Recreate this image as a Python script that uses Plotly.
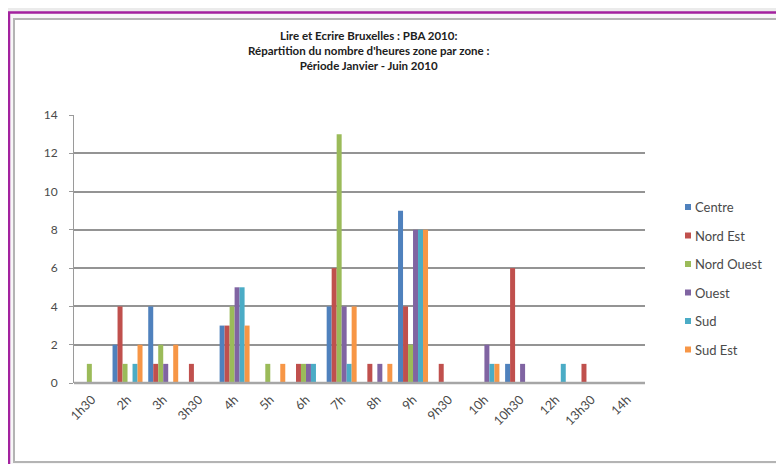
import plotly.graph_objects as go

categories = ["1h30", "2h", "3h", "3h30", "4h", "5h", "6h", "7h", "8h", "9h",
              "9h30", "10h", "10h30", "12h", "13h30", "14h"]
centre     = [0, 2, 4, 0, 3, 0, 0, 4, 0, 9, 0, 0, 1, 0, 0, 0]
nord_est   = [0, 4, 1, 1, 3, 0, 1, 6, 1, 4, 1, 0, 6, 0, 1, 0]
nord_ouest = [1, 1, 2, 0, 4, 1, 1, 13, 0, 2, 0, 0, 0, 0, 0, 0]
ouest      = [0, 0, 1, 0, 5, 0, 1, 4, 1, 8, 0, 2, 1, 0, 0, 0]
sud        = [0, 1, 0, 0, 5, 0, 1, 1, 0, 8, 0, 1, 0, 1, 0, 0]
sud_est    = [0, 2, 2, 0, 3, 1, 0, 4, 1, 8, 0, 1, 0, 0, 0, 0]
series_names = ["Centre", "Nord Est", "Nord Ouest", "Ouest", "Sud", "Sud Est"]
series_values = [centre, nord_est, nord_ouest, ouest, sud, sud_est]
colors = ["#4F81BD", "#C0504D", "#9BBB59", "#8064A2", "#4BACC6", "#F79646"]
y_ticks = [0, 2, 4, 6, 8, 10, 12, 14]

W, H = 784, 464
OFF = 8  # page body margin
# plot area in screen pixels
SL, SR, ST, SB = 74, 645, 115, 383
L, R, T, B = SL - OFF, SR - OFF, ST - OFF, SB - OFF


def px(x):
    return (x - SL) / (SR - SL)


def py(y):
    return (SB - y) / (SB - ST)


font_family = "Lato, 'Open Sans', sans-serif"

fig = go.Figure()
for i, (name, vals) in enumerate(zip(series_names, series_values)):
    fig.add_trace(go.Bar(x=categories, y=vals, name=name,
                         marker=dict(color=colors[i], line=dict(width=0)),
                         showlegend=False))

shapes = [
    dict(type="rect", xref="paper", yref="paper", layer="below",
         x0=px(9), x1=px(820), y0=py(12.5), y1=py(490),
         line=dict(color="#a3229f", width=2.5), fillcolor="#f7f7f7"),
    dict(type="rect", xref="paper", yref="paper", layer="below",
         x0=px(14), x1=px(820), y0=py(19), y1=py(462),
         line=dict(color="#b4b4b4", width=2), fillcolor="#ffffff"),
    dict(type="line", xref="paper", yref="paper", layer="above",
         x0=0, x1=1, y0=0, y1=0,
         line=dict(color="#a6a6a6", width=2.5)),
]
annotations = [
    dict(xref="paper", yref="paper", x=px(368), y=py(27),
         xanchor="center", yanchor="top", showarrow=False, align="center",
         text="<b>Lire et Ecrire Bruxelles : PBA 2010:<br>"
              "Répartition du nombre d'heures zone par zone :<br>"
              "Période Janvier - Juin 2010</b>",
         font=dict(size=11.5, color="#202020", family=font_family)),
]

# legend drawn as small squares + text
leg_y0, leg_dy = 207, 28.5
for i, name in enumerate(series_names):
    yc = leg_y0 + i * leg_dy
    shapes.append(dict(type="rect", xref="paper", yref="paper", layer="above",
                       x0=px(685), x1=px(691), y0=py(yc - 3), y1=py(yc + 3),
                       line=dict(width=0), fillcolor=colors[i]))
    annotations.append(dict(xref="paper", yref="paper", x=px(693), y=py(yc),
                            xanchor="left", yanchor="middle", showarrow=False,
                            text=name,
                            font=dict(size=13, color="#4a4a4a",
                                      family=font_family)))

fig.update_layout(
    width=W, height=H,
    margin=dict(l=L, r=W - R, t=T, b=H - B, pad=0),
    paper_bgcolor="#ebebeb",
    plot_bgcolor="rgba(0,0,0,0)",
    barmode="group",
    bargap=0.16,
    bargroupgap=0,
    font=dict(family=font_family, size=10, color="#404040"),
    showlegend=False,
    xaxis=dict(type="category", tickangle=-45, showgrid=False,
               showline=False, ticks="", ticklabelstandoff=6,
               tickfont=dict(size=12.5, color="#4a4a4a"),
               range=[-0.5, len(categories) - 0.5], fixedrange=True),
    yaxis=dict(range=[0, 14], tickvals=y_ticks, showgrid=True,
               gridcolor="#949494", gridwidth=1.6, zeroline=False,
               showline=True, linecolor="#9a9a9a", linewidth=1,
               ticks="outside", ticklen=4, tickcolor="#9a9a9a",
               ticklabelstandoff=9,
               tickfont=dict(size=12, color="#4a4a4a"), fixedrange=True),
    shapes=shapes,
    annotations=annotations,
)

fig.write_html("out.html")
